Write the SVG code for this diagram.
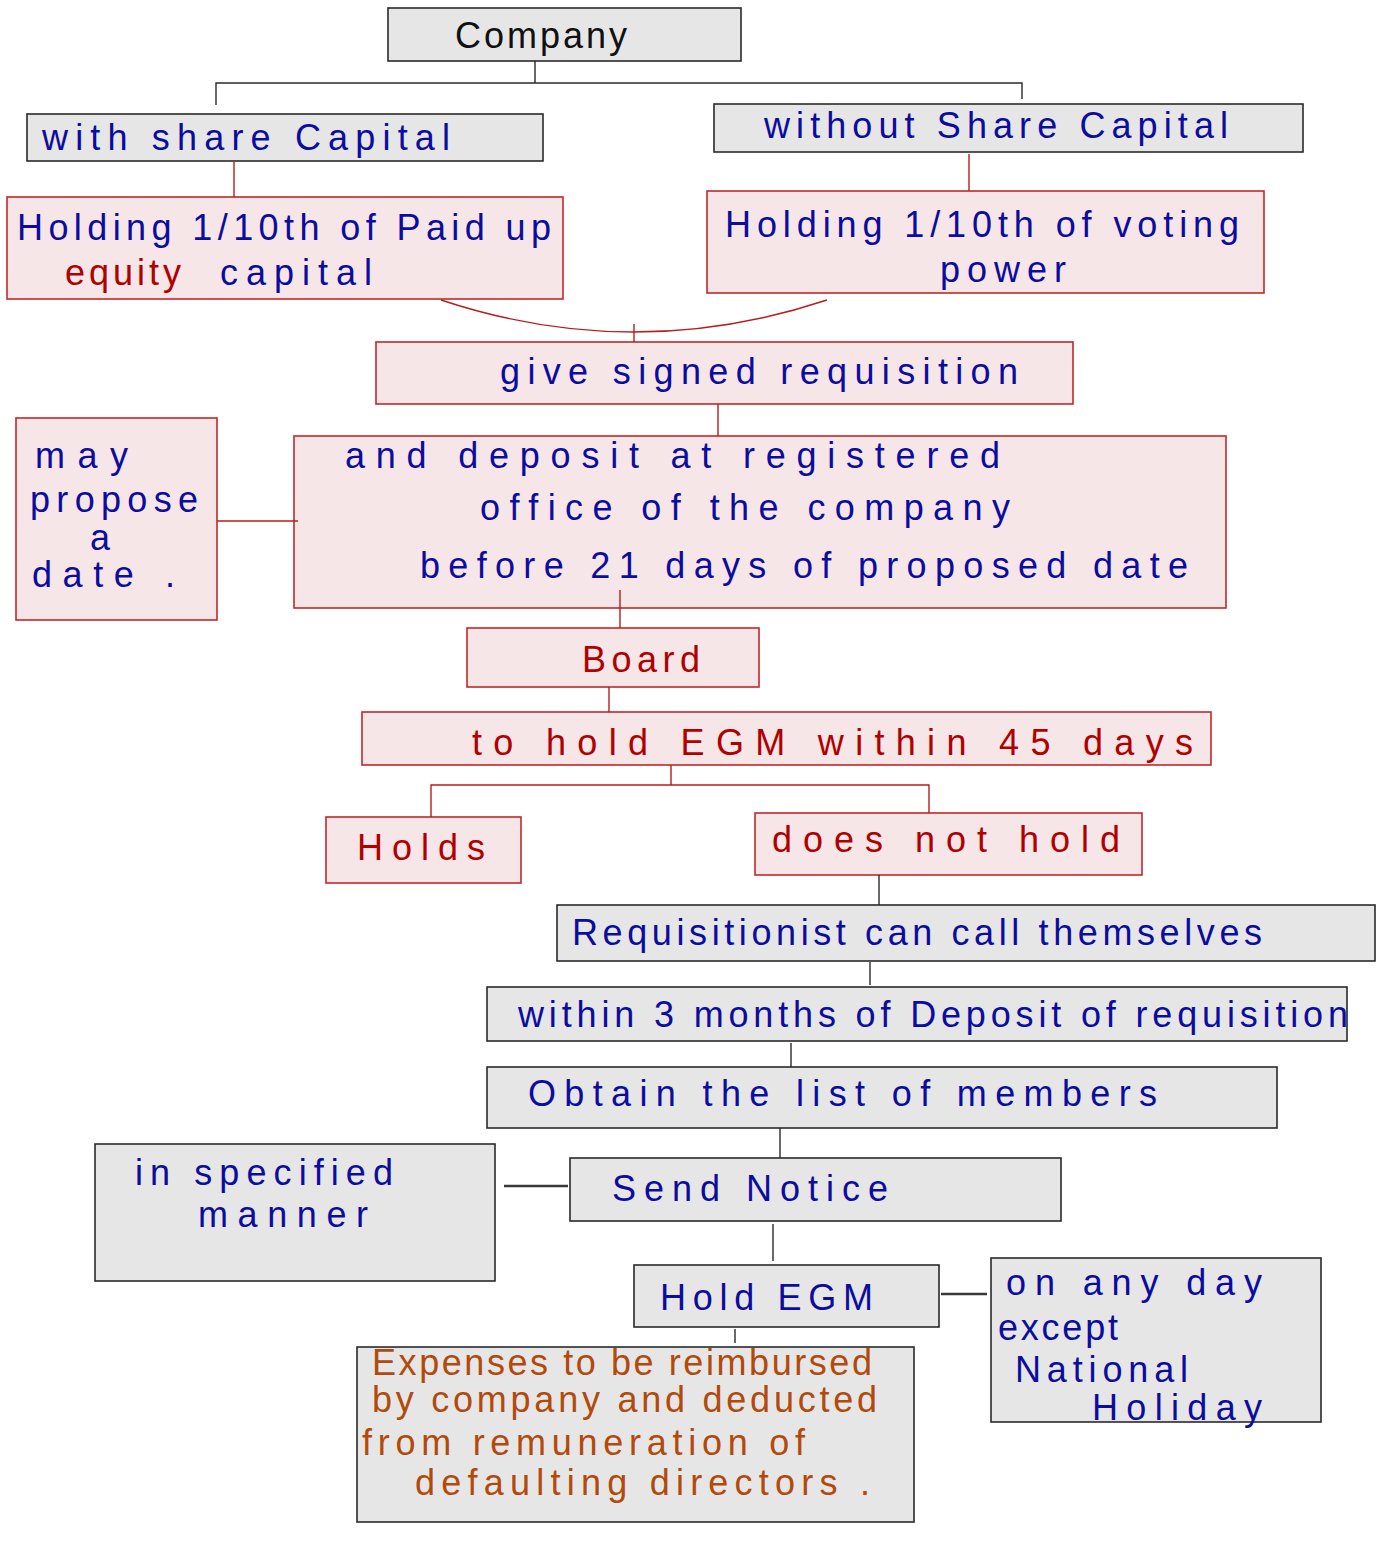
<svg xmlns="http://www.w3.org/2000/svg" width="1387" height="1553" viewBox="0 0 1387 1553">
<style>
.g{fill:#e6e6e6;stroke:#2a2a2a;stroke-width:1.6}
.p{fill:#f6e6e7;stroke:#c02a2c;stroke-width:1.6}
.lk{fill:none;stroke:#2a2a2a;stroke-width:1.4}
.lk2{fill:none;stroke:#3a3a3a;stroke-width:2.4}
.lr{fill:none;stroke:#b81c1c;stroke-width:1.4}
text{font-family:"Liberation Sans","DejaVu Sans",sans-serif;font-size:36px}
.b{fill:#0c0c9e}
.r{fill:#b00000}
.k{fill:#111}
.o{fill:#b24a0c}
</style>
<g id="company"><rect class="g" x="388" y="8" width="353" height="53"/><text class="k" x="455" y="48" textLength="172">Company</text></g>
<g id="with-share"><rect class="g" x="27" y="114" width="516" height="47"/><text class="b" x="42" y="150" textLength="408">with share Capital</text></g>
<g id="without-share"><rect class="g" x="714" y="104" width="589" height="48"/><text class="b" x="764" y="138" textLength="464">without Share Capital</text></g>
<g id="holding-paid"><rect class="p" x="7" y="197" width="556" height="102"/><text class="b" x="17" y="240" textLength="534">Holding 1/10th of Paid up</text><text class="r" x="65" y="285" textLength="116">equity</text><text class="b" x="220" y="285" textLength="152">capital</text></g>
<g id="holding-voting"><rect class="p" x="707" y="191" width="557" height="102"/><text class="b" x="725" y="237" textLength="514">Holding 1/10th of voting</text><text class="b" x="940" y="282" textLength="126">power</text></g>
<g id="requisition"><rect class="p" x="376" y="342" width="697" height="62"/><text class="b" x="500" y="384" textLength="518">give signed requisition</text></g>
<g id="propose"><rect class="p" x="16" y="418" width="201" height="202"/><text class="b" x="35" y="468" textLength="93">may</text><text class="b" x="30" y="512" textLength="168">propose</text><text class="b" x="90" y="550" textLength="30">a</text><text class="b" x="32" y="587" textLength="143">date .</text></g>
<g id="deposit"><rect class="p" x="294" y="436" width="932" height="172"/><text class="b" x="345" y="468" textLength="655">and deposit at registered</text><text class="b" x="480" y="520" textLength="530">office of the company</text><text class="b" x="420" y="578" textLength="768">before 21 days of proposed date</text></g>
<g id="board"><rect class="p" x="467" y="628" width="292" height="59"/><text class="r" x="582" y="672" textLength="118">Board</text></g>
<g id="hold-egm-45"><rect class="p" x="362" y="712" width="849" height="53"/><text class="r" x="472" y="755" textLength="721">to hold EGM within 45 days</text></g>
<g id="holds"><rect class="p" x="326" y="817" width="195" height="66"/><text class="r" x="357" y="860" textLength="128">Holds</text></g>
<g id="not-hold"><rect class="p" x="755" y="813" width="387" height="62"/><text class="r" x="772" y="852" textLength="348">does not hold</text></g>
<g id="requisitionist"><rect class="g" x="557" y="905" width="818" height="56"/><text class="b" x="572" y="945" textLength="690">Requisitionist can call themselves</text></g>
<g id="three-months"><rect class="g" x="487" y="987" width="860" height="54"/><text class="b" x="518" y="1027" textLength="830">within 3 months of Deposit of requisition</text></g>
<g id="obtain-list"><rect class="g" x="487" y="1067" width="790" height="61"/><text class="b" x="528" y="1106" textLength="629">Obtain the list of members</text></g>
<g id="specified-manner"><rect class="g" x="95" y="1144" width="400" height="137"/><text class="b" x="135" y="1185" textLength="258">in specified</text><text class="b" x="198" y="1227" textLength="170">manner</text></g>
<g id="send-notice"><rect class="g" x="570" y="1158" width="491" height="63"/><text class="b" x="612" y="1201" textLength="276">Send Notice</text></g>
<g id="hold-egm"><rect class="g" x="634" y="1265" width="305" height="62"/><text class="b" x="660" y="1310" textLength="213">Hold EGM</text></g>
<g id="any-day"><rect class="g" x="991" y="1258" width="330" height="164"/><text class="b" x="1006" y="1295" textLength="256">on any day</text><text class="b" x="998" y="1340" textLength="120">except</text><text class="b" x="1015" y="1382" textLength="173">National</text><text class="b" x="1092" y="1420" textLength="170">Holiday</text></g>
<g id="expenses"><rect class="g" x="357" y="1347" width="557" height="175"/><text class="o" x="372" y="1375" textLength="500">Expenses to be reimbursed</text><text class="o" x="372" y="1412" textLength="505">by company and deducted</text><text class="o" x="362" y="1455" textLength="443">from remuneration of</text><text class="o" x="415" y="1495" textLength="455">defaulting directors .</text></g>
<g id="connectors">
<path class="lk" d="M535,61 V83 M216,105 V83 H1022 V99"/>
<path class="lr" d="M234,161 V197"/>
<path class="lr" d="M969,154 V191"/>
<path class="lr" d="M441,300 Q634,364 827,300"/>
<path class="lr" d="M634,324 V342"/>
<path class="lr" d="M718,404 V436"/>
<path class="lr" d="M217,521 H298"/>
<path class="lr" d="M620,590 V628"/>
<path class="lr" d="M609,687 V712"/>
<path class="lr" d="M671,765 V785 M431,817 V785 H929 V813"/>
<path class="lk" d="M879,875 V905"/>
<path class="lk" d="M870,962 V985"/>
<path class="lk" d="M791,1043 V1067"/>
<path class="lk" d="M780,1128 V1158"/>
<path class="lk2" d="M504,1186 H568"/>
<path class="lk" d="M773,1224 V1261"/>
<path class="lk2" d="M941,1294 H987"/>
<path class="lk" d="M735,1329 V1343"/>
</g>
</svg>
